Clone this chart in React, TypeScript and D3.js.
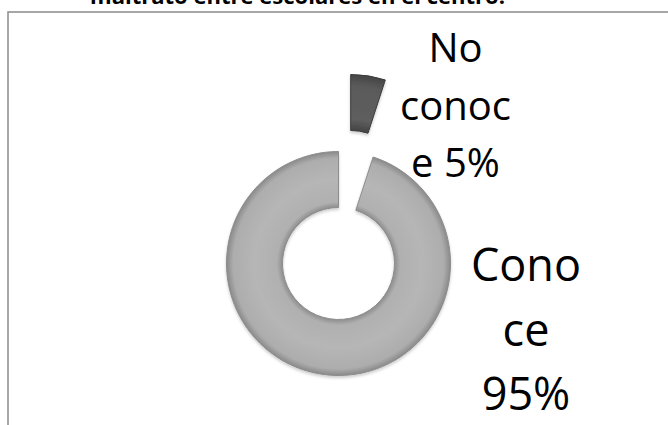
import React from "react";
import * as d3 from "d3";

const categories = ["No conoce", "Conoce"];
const values = [5, 95];
const labelLines = [["No", "conoc", "e 5%"], ["Cono", "ce", "95%"]];
const title = "maltrato entre escolares en el centro.";

const W = 668, H = 425;
const cx = 338.5, cy = 263.5, rOuter = 112, rInner = 56, explode = 78;

export default function App() {
  const pie = d3.pie<number>().sort(null).value(d => d).startAngle(0).endAngle(2 * Math.PI);
  const arcs = pie(values);
  const arc = d3.arc<d3.PieArcDatum<number>>().innerRadius(rInner).outerRadius(rOuter);
  const fills = ["url(#gDark)", "url(#gLight)"];
  const strokes = ["#3c3c3c", "#8c8c8c"];
  const labelPos = [
    { x: 455.5, y: 62, size: 40, lh: 57.5 },
    { x: 526, y: 281, size: 45, lh: 64.5 },
  ];
  return (
    <svg width={W} height={H} style={{ position: "absolute", left: 0, top: 0, background: "#fff" }}
      xmlns="http://www.w3.org/2000/svg">
      <defs>
        <radialGradient id="gLight" gradientUnits="userSpaceOnUse" cx={0} cy={0} r={rOuter}>
          <stop offset="0.5" stopColor="#8e8e8e" />
          <stop offset="0.55" stopColor="#b0b0b0" />
          <stop offset="0.75" stopColor="#b6b6b6" />
          <stop offset="0.94" stopColor="#adadad" />
          <stop offset="1" stopColor="#8a8a8a" />
        </radialGradient>
        <radialGradient id="gDark" gradientUnits="userSpaceOnUse" cx={0} cy={0} r={rOuter}>
          <stop offset="0.5" stopColor="#444" />
          <stop offset="0.6" stopColor="#5e5e5e" />
          <stop offset="0.9" stopColor="#5a5a5a" />
          <stop offset="1" stopColor="#454545" />
        </radialGradient>
        <filter id="soft" x="-20%" y="-20%" width="140%" height="140%">
          <feGaussianBlur in="SourceAlpha" stdDeviation="1.5" />
          <feOffset dx="0" dy="1.5" result="b" />
          <feFlood floodColor="#000" floodOpacity="0.2" />
          <feComposite in2="b" operator="in" />
          <feMerge>
            <feMergeNode />
            <feMergeNode in="SourceGraphic" />
          </feMerge>
        </filter>
      </defs>
      <rect x={8} y={12} width={W + 20} height={H + 20} fill="#fff" stroke="#8a8a8a" strokeWidth={1.5} />
      <text x={90} y={4} textLength={415} lengthAdjust="spacingAndGlyphs"
        fontFamily="'Open Sans', Arial, sans-serif" fontWeight="bold" fontSize={21} fill="#000">
        {title}
      </text>
      {arcs.map((a, i) => {
        const mid = (a.startAngle + a.endAngle) / 2;
        const off = i === 0 ? explode : 0;
        const dx = Math.sin(mid) * off, dy = -Math.cos(mid) * off;
        return (
          <g key={categories[i]} transform={`translate(${cx + dx},${cy + dy})`} filter="url(#soft)">
            <path d={arc(a) || ""} fill={fills[i]} stroke={strokes[i]} strokeWidth={1} />
          </g>
        );
      })}
      {labelLines.map((lines, i) => (
        <text key={categories[i]} textAnchor="middle" fontFamily="'Open Sans', sans-serif"
          fontSize={labelPos[i].size} fill="#000">
          {lines.map((l, j) => (
            <tspan key={j} x={labelPos[i].x} y={labelPos[i].y + j * labelPos[i].lh}>{l}</tspan>
          ))}
        </text>
      ))}
    </svg>
  );
}
